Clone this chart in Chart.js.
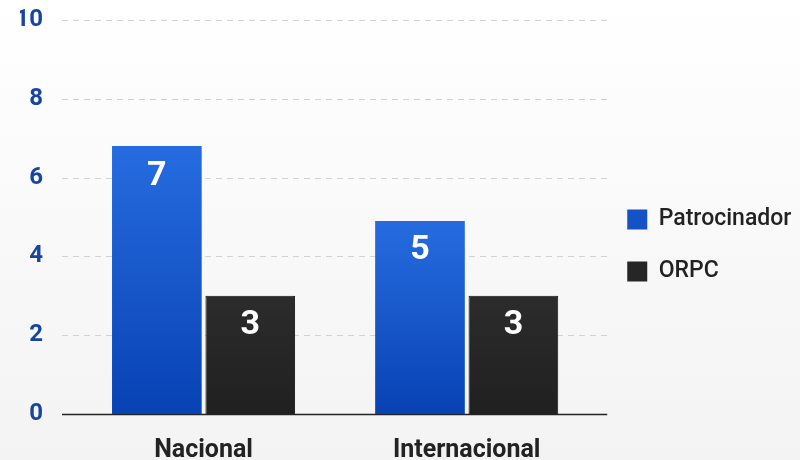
<!DOCTYPE html>
<html>
<head>
<meta charset="utf-8">
<script src="https://cdn.jsdelivr.net/npm/chart.js@4/dist/chart.umd.min.js"></script>
<style>
  html, body { margin: 0; padding: 0; background: linear-gradient(#ffffff, #f3f3f3); }
  #wrap { width: 800px; height: 460px; position: relative; }
</style>
</head>
<body>
<div id="wrap"><canvas id="chart"></canvas></div>
<script>
// ── Dados ────────────────────────────────────────────────────────────────────
const categories     = ["Nacional", "Internacional"];
const patrocinador   = [6.8, 4.9];   // altura das barras
const orpc           = [3, 3];
const patrocLabels   = ["7", "5"];   // rótulos exibidos
const orpcLabels     = ["3", "3"];
const yTicks         = [0, 2, 4, 6, 8, 10];

const FONT = "Roboto, 'Noto Sans', sans-serif";

// gradiente azul por barra
function blueGradient(ctx) {
  const chart = ctx.chart;
  const area = chart.chartArea;
  if (!area || !chart.scales.y) return "#1a5ad0";
  const top = chart.scales.y.getPixelForValue(ctx.raw ?? 0);
  const g = chart.ctx.createLinearGradient(0, top, 0, area.bottom);
  g.addColorStop(0, "#266ce0");
  g.addColorStop(1, "#0842b4");
  return g;
}

// gradiente escuro por barra
function darkGradient(ctx) {
  const chart = ctx.chart;
  const area = chart.chartArea;
  if (!area || !chart.scales.y) return "#262626";
  const top = chart.scales.y.getPixelForValue(ctx.raw ?? 0);
  const g = chart.ctx.createLinearGradient(0, top, 0, area.bottom);
  g.addColorStop(0, "#2c2c2c");
  g.addColorStop(1, "#202020");
  return g;
}

// grade tracejada + linha base desenhadas pela escala y
const gridPlugin = {
  id: "gridPlugin",
  beforeDatasetsDraw(chart) {
    const { ctx, scales: { y } } = chart;
    const x0 = chart.chartArea.left - 10, x1 = chart.chartArea.right + 9;
    ctx.save();
    yTicks.forEach(v => {
      const py = Math.round(y.getPixelForValue(v)) + 0.5;
      ctx.beginPath();
      if (v === 0) {
        ctx.setLineDash([]);
        ctx.strokeStyle = "#222";
        ctx.lineWidth = 1.5;
      } else {
        ctx.setLineDash([6, 5]);
        ctx.strokeStyle = "#d2d2d2";
        ctx.lineWidth = 1;
      }
      ctx.moveTo(x0, py);
      ctx.lineTo(x1, py);
      ctx.stroke();
    });
    ctx.restore();
  },
};

// rótulos brancos dentro das barras
const labelPlugin = {
  id: "labelPlugin",
  afterDatasetsDraw(chart) {
    const { ctx } = chart;
    const texts = [patrocLabels, orpcLabels];
    ctx.save();
    ctx.fillStyle = "#fff";
    ctx.font = `bold 34px ${FONT}`;
    ctx.textAlign = "center";
    ctx.textBaseline = "middle";
    chart.data.datasets.forEach((ds, i) => {
      chart.getDatasetMeta(i).data.forEach((bar, j) => {
        ctx.fillText(texts[i][j], bar.x, bar.y + 30);
      });
    });
    ctx.restore();
  },
};

new Chart(document.getElementById("chart"), {
  type: "bar",
  data: {
    labels: categories,
    datasets: [
      {
        label: "Patrocinador",
        data: patrocinador,
        backgroundColor: blueGradient,
        borderWidth: 0,
        categoryPercentage: 0.71,
        barPercentage: 0.96,
      },
      {
        label: "ORPC",
        data: orpc,
        backgroundColor: darkGradient,
        borderColor: "#111",
        borderWidth: 1,
        borderSkipped: "bottom",
        categoryPercentage: 0.71,
        barPercentage: 0.96,
      },
    ],
  },
  options: {
    responsive: true,
    maintainAspectRatio: false,
    animation: false,
    layout: { padding: { left: 20, top: 20, right: 9, bottom: 0 } },
    plugins: {
      tooltip: { enabled: false },
      legend: {
        position: "right",
        title: { display: true, text: " ", font: { size: 1 }, padding: { top: 10, bottom: 0 } },
        labels: {
          font: { family: FONT, size: 23, weight: "500" },
          color: "#222",
          boxWidth: 20,
          boxHeight: 20,
          padding: 29,
          generateLabels: chart => chart.data.datasets.map((ds, i) => ({
            text: ds.label,
            fillStyle: i === 0 ? "#1552c6" : "#262626",
            strokeStyle: i === 0 ? "#1552c6" : "#262626",
            lineWidth: 0,
            datasetIndex: i,
            fontColor: "#222",
          })),
        },
      },
    },
    scales: {
      x: {
        grid: { display: false, drawTicks: false },
        border: { display: false },
        ticks: {
          color: "#222",
          padding: 22,
          font: { family: FONT, size: 25, weight: "bold" },
        },
        afterFit: s => { s.height = 46; s.paddingTop = 0; s.paddingBottom = 0; },
      },
      y: {
        min: 0,
        max: 10,
        afterBuildTicks: s => { s.ticks = yTicks.map(v => ({ value: v })); },
        grid: { display: false, drawTicks: false },
        border: { display: false },
        ticks: {
          color: "#1646a0",
          padding: 29,
          font: { family: FONT, size: 24, weight: "bold" },
        },
        afterFit: s => { s.width = 52; s.paddingTop = 0; s.paddingBottom = 0; },
      },
    },
  },
  plugins: [gridPlugin, labelPlugin],
});
</script>
</body>
</html>
